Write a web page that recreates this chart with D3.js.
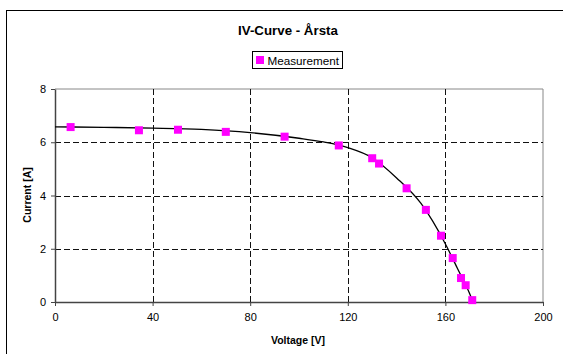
<!DOCTYPE html>
<html>
<head>
<meta charset="utf-8">
<script src="https://cdn.jsdelivr.net/npm/d3@7"></script>
<style>
  body { margin: 0; background: #fff; }
  text { font-family: Arial, "Liberation Sans", sans-serif; fill: #000; }
</style>
</head>
<body>
<div id="chart"></div>
<script>
// measured points
const voltage = [6.4, 34.4, 50.4, 70.0, 94.1, 116.3, 130.0, 132.8, 144.1, 152.0, 158.2, 163.0, 166.4, 168.3, 171.0];
const current = [6.57, 6.45, 6.47, 6.39, 6.21, 5.88, 5.40, 5.20, 4.27, 3.46, 2.49, 1.65, 0.90, 0.63, 0.07];

// fitted curve
const curveV = [0, 20, 40, 60, 80, 100, 110, 120, 130, 140, 150, 160, 165, 170, 171.3];
const curveI = [6.58, 6.56, 6.53, 6.48, 6.36, 6.15, 6.01, 5.80, 5.42, 4.66, 3.70, 2.18, 1.25, 0.30, 0];

const xTicks = [0, 40, 80, 120, 160, 200];
const yTicks = [0, 2, 4, 6, 8];

const width = 563, height = 354;

const svg = d3.select("#chart").append("svg")
    .attr("width", width)
    .attr("height", height);

// outer frame
svg.append("rect")
    .attr("x", 6.5).attr("y", 10.5)
    .attr("width", 570).attr("height", 360)
    .attr("fill", "#fff")
    .attr("stroke", "#000")
    .attr("stroke-width", 1);

const x = d3.scaleLinear().domain([0, 200]).range([55, 543]);
const y = d3.scaleLinear().domain([0, 8]).range([302, 89]);

// plot area border (top/right)
svg.append("path")
    .attr("d", `M${x(0)},${y(8)}H${x(200)}V${y(0)}`)
    .attr("fill", "none")
    .attr("stroke", "#888")
    .attr("stroke-width", 1);

// grid
const grid = svg.append("g")
    .attr("stroke", "#111")
    .attr("stroke-width", 1)
    .attr("stroke-dasharray", "6,3");
grid.selectAll(".gx")
    .data(xTicks.filter(d => d > 0 && d < 200))
    .join("line")
      .attr("x1", d => Math.round(x(d)) + 0.5).attr("x2", d => Math.round(x(d)) + 0.5)
      .attr("y1", y(8)).attr("y2", y(0));
grid.selectAll(".gy")
    .data(yTicks.filter(d => d > 0 && d < 8))
    .join("line")
      .attr("class", "gy")
      .attr("x1", x(0)).attr("x2", x(200))
      .attr("y1", d => Math.round(y(d)) + 0.5).attr("y2", d => Math.round(y(d)) + 0.5);

// axes
const xAxis = g => g
    .attr("transform", `translate(0,${y(0)})`)
    .call(d3.axisBottom(x).tickValues(xTicks).tickSize(4).tickSizeOuter(0).tickPadding(7))
    .call(g => g.select(".domain").attr("stroke", "#444").attr("stroke-width", 1.5))
    .call(g => g.selectAll(".tick line").attr("stroke", "#444"))
    .call(g => g.selectAll(".tick text").style("font-size", "11px").attr("fill", "#000"));

const yAxis = g => g
    .attr("transform", `translate(${x(0)},0)`)
    .call(d3.axisLeft(y).tickValues(yTicks).tickSize(4).tickSizeOuter(0).tickPadding(5))
    .call(g => g.select(".domain").attr("stroke", "#444").attr("stroke-width", 1.5))
    .call(g => g.selectAll(".tick line").attr("stroke", "#444"))
    .call(g => g.selectAll(".tick text").style("font-size", "11px").attr("fill", "#000"));

svg.append("g").call(xAxis);
svg.append("g").call(yAxis);

// fitted line
const line = d3.line()
    .x((d, i) => x(curveV[i]))
    .y((d, i) => y(curveI[i]))
    .curve(d3.curveMonotoneX);

svg.append("path")
    .datum(curveV)
    .attr("d", line)
    .attr("fill", "none")
    .attr("stroke", "#000")
    .attr("stroke-width", 1.3);

// markers
const ms = 8;
svg.append("g")
    .selectAll("rect")
    .data(voltage)
    .join("rect")
      .attr("x", (d) => x(d) - ms / 2)
      .attr("y", (d, i) => y(current[i]) - ms / 2)
      .attr("width", ms)
      .attr("height", ms)
      .attr("fill", "#ff00ff");

// title
svg.append("text")
    .attr("x", 288).attr("y", 35)
    .attr("text-anchor", "middle")
    .style("font", "bold 13.3px Arial, 'Liberation Sans', sans-serif")
    .text("IV-Curve - Årsta");

// legend
const lg = svg.append("g");
lg.append("rect")
    .attr("x", 252.5).attr("y", 51.5)
    .attr("width", 90).attr("height", 17)
    .attr("fill", "#fff")
    .attr("stroke", "#000");
lg.append("rect")
    .attr("x", 256).attr("y", 56)
    .attr("width", 8).attr("height", 8)
    .attr("fill", "#ff00ff");
lg.append("text")
    .attr("x", 267.5).attr("y", 64.5)
    .style("font-size", "11.7px")
    .text("Measurement");

// axis titles
svg.append("text")
    .attr("x", 298).attr("y", 344)
    .attr("text-anchor", "middle")
    .style("font", "bold 10.5px Arial, 'Liberation Sans', sans-serif")
    .text("Voltage [V]");

svg.append("text")
    .attr("transform", "translate(31,195) rotate(-90)")
    .attr("text-anchor", "middle")
    .style("font", "bold 10.5px Arial, 'Liberation Sans', sans-serif")
    .text("Current [A]");
</script>
</body>
</html>
